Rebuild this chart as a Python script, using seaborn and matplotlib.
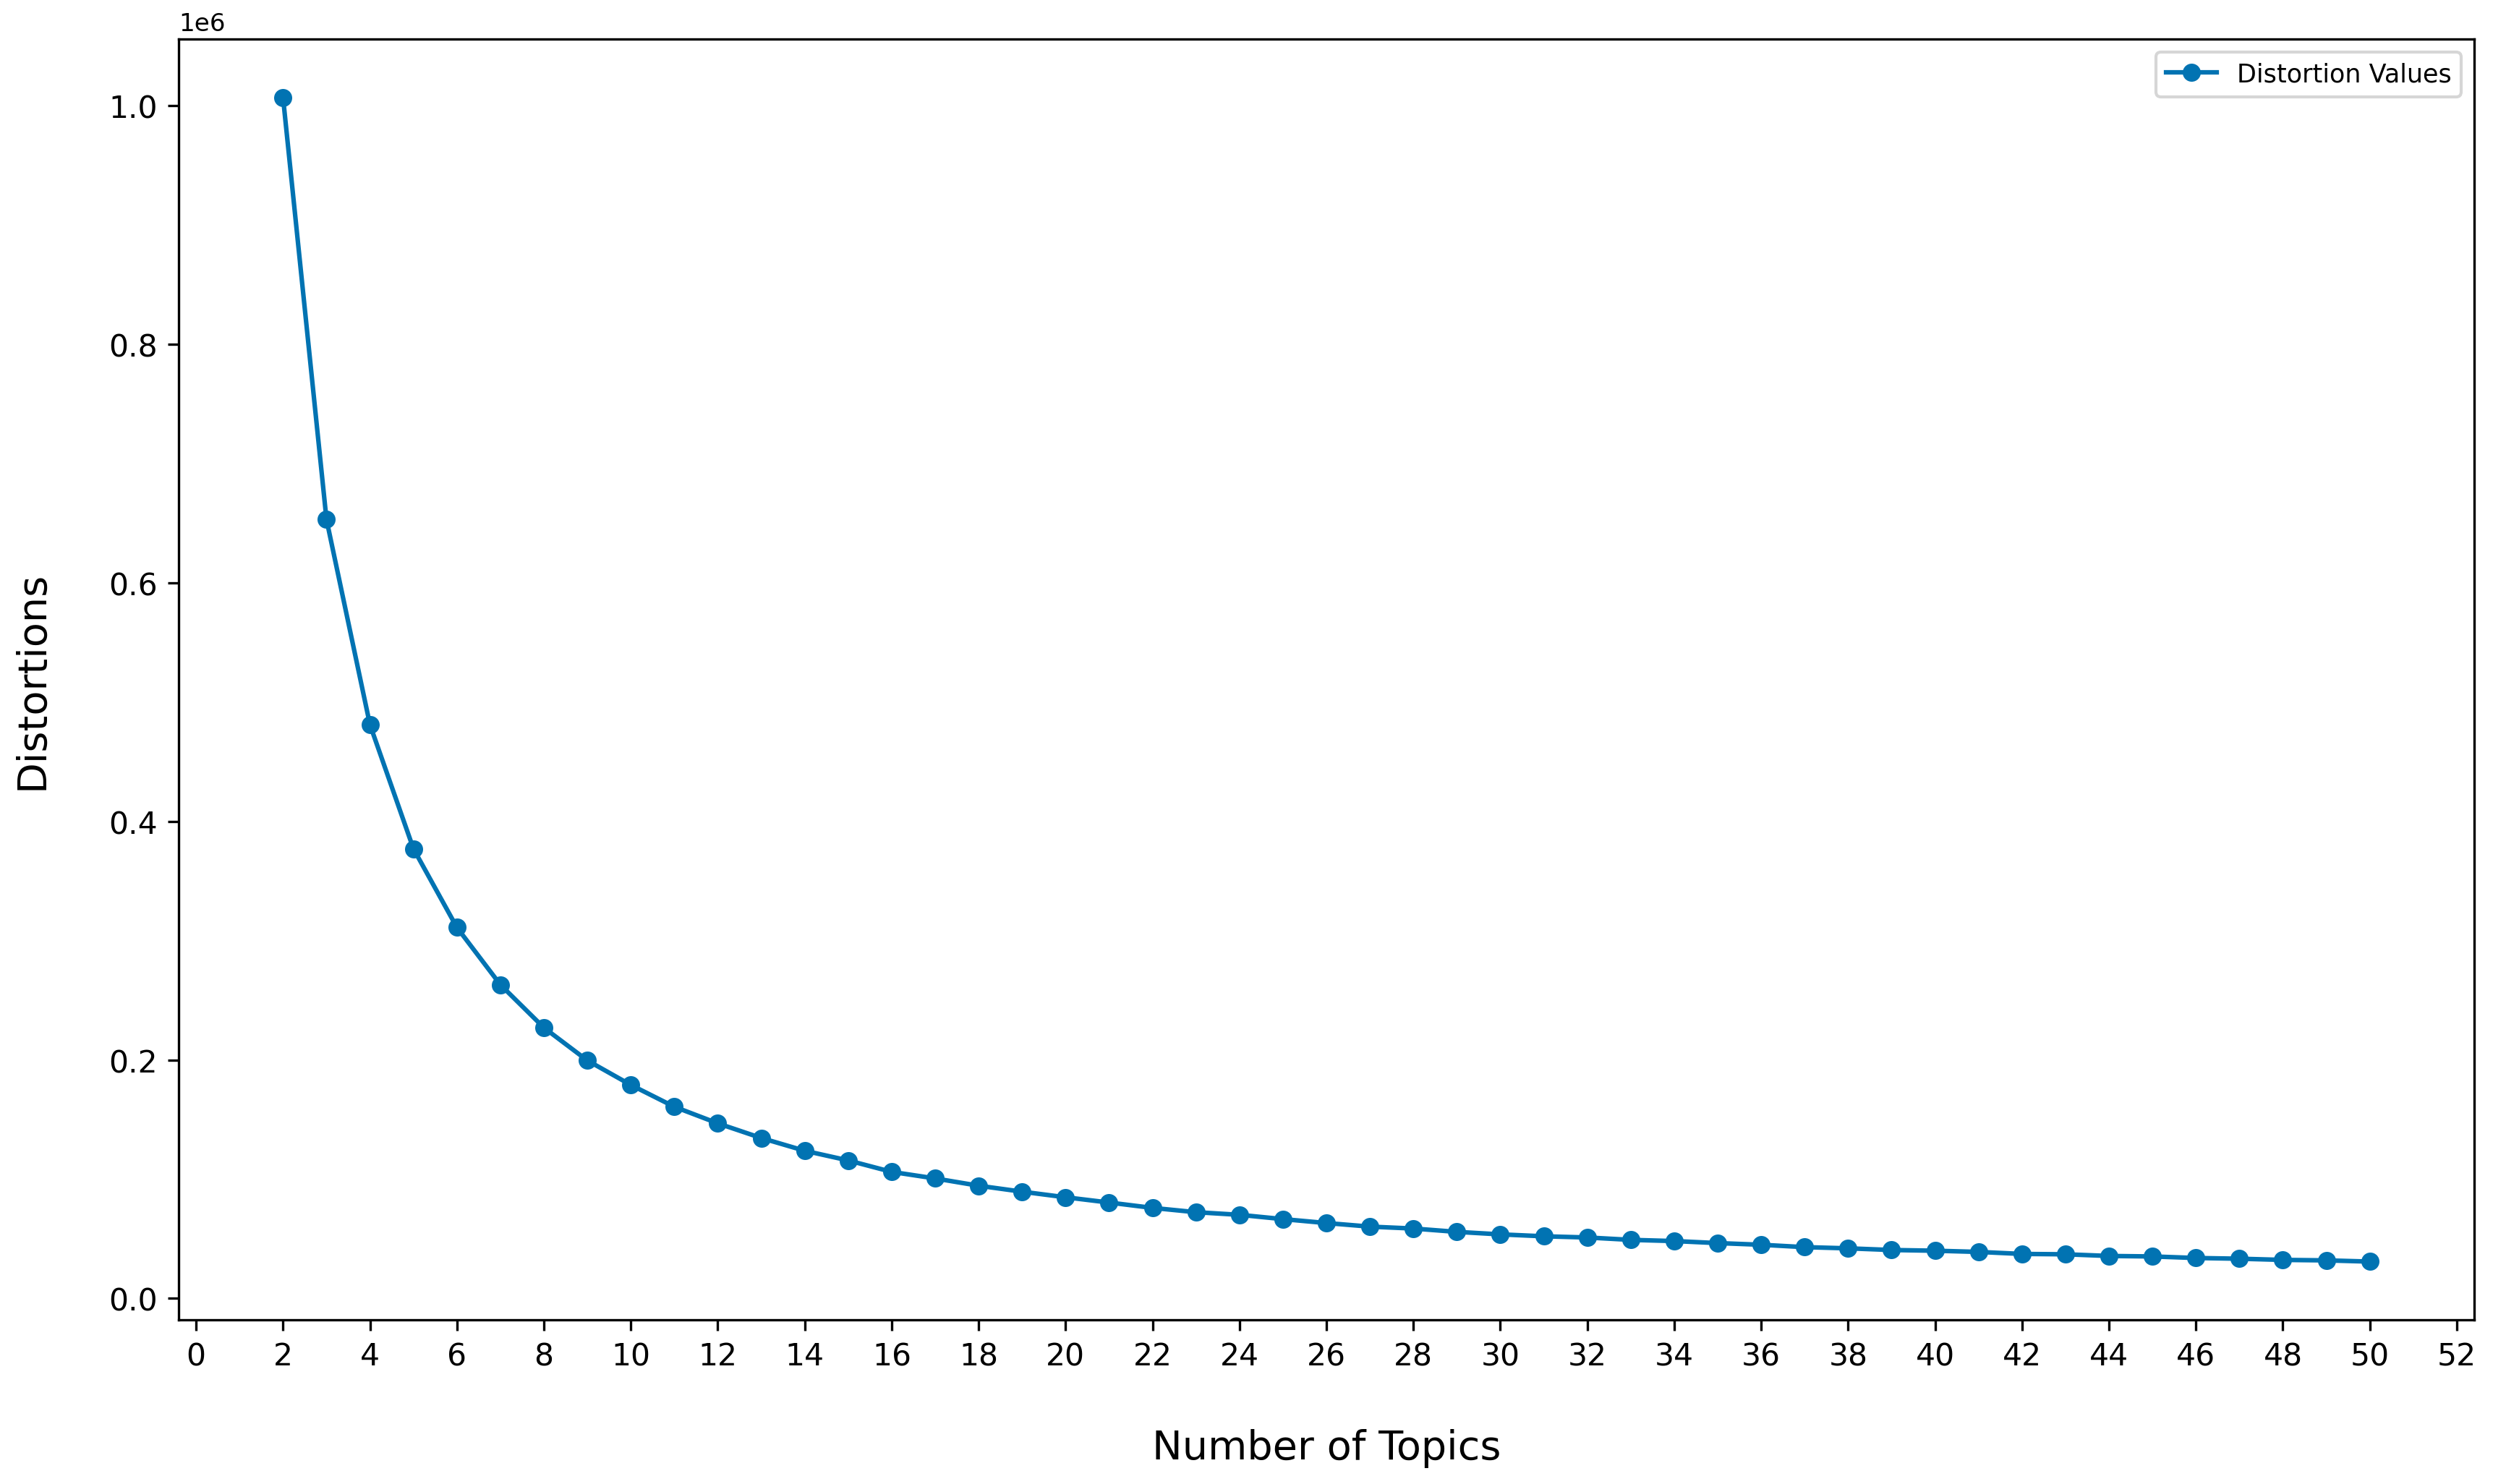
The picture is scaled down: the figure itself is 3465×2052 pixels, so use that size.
import matplotlib
matplotlib.use("Agg")
import numpy as np
import pandas as pd
import matplotlib.pyplot as plt
import seaborn as sns

# number of topics and the distortion
num_topics = list(range(2, 51))
distortions = [
    1.007e6, 0.653e6, 0.481e6, 0.377e6, 0.311e6, 0.263e6, 0.227e6, 0.1995e6,
    0.179e6, 0.1607e6, 0.1468e6, 0.1345e6, 0.1238e6, 0.1157e6, 0.1061e6,
    0.1006e6, 0.0945e6, 0.0895e6, 0.0848e6, 0.0804e6, 0.0759e6, 0.0723e6,
    0.0701e6, 0.0665e6, 0.0632e6, 0.0602e6, 0.0586e6, 0.0558e6, 0.0537e6,
    0.0521e6, 0.0511e6, 0.0491e6, 0.0481e6, 0.0464e6, 0.0450e6, 0.0430e6,
    0.0420e6, 0.0406e6, 0.0400e6, 0.0390e6, 0.0373e6, 0.0370e6, 0.0356e6,
    0.0352e6, 0.0339e6, 0.0333e6, 0.0323e6, 0.0319e6, 0.0309e6,
]
x_ticks = list(range(0, 53, 2))

data = pd.DataFrame({"topics": num_topics, "distortion": distortions})
color = sns.color_palette("colorblind")[0]

fig = plt.figure(figsize=(11.55, 6.8433), dpi=300)
ax = fig.add_axes([0.0713, 0.1106, 0.916, 0.8626])

sns.lineplot(data=data, x="topics", y="distortion", marker="o", markersize=6,
             markeredgecolor=color, markeredgewidth=0, color=color,
             linewidth=1.5, label="Distortion Values", ax=ax)

ax.set_xticks(x_ticks)
ax.tick_params(axis="both", labelsize=10.2)
ax.yaxis.get_offset_text().set_fontsize(8.2)
ax.set_xlabel("Number of Topics", fontsize=13.4, labelpad=19)
ax.set_ylabel("Distortions", fontsize=13.4, labelpad=19)
ax.legend(loc="upper right", fontsize=8.4)

fig.savefig("out.png", dpi=300)
